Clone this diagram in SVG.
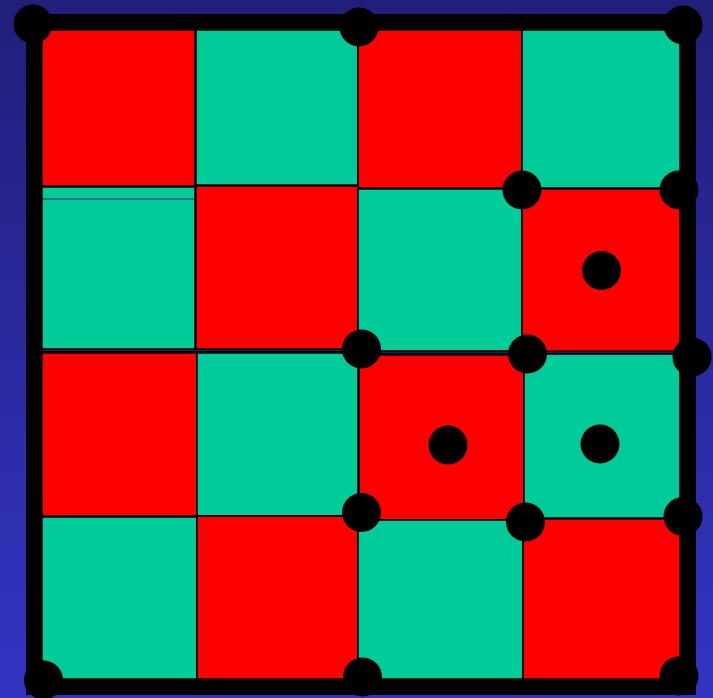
<svg xmlns="http://www.w3.org/2000/svg" width="713" height="698" viewBox="0 0 713 698">
<defs>
<linearGradient id="bg" x1="0" y1="0" x2="0" y2="1">
<stop offset="0" stop-color="#201f7a"/>
<stop offset="1" stop-color="#3434c4"/>
</linearGradient>
</defs>
<style>
.r{fill:#ff0000;stroke:#000;stroke-width:1.5}
.t{fill:#00cc99;stroke:#000;stroke-width:1.5}
.d{fill:#000}
</style>
<rect width="713" height="698" fill="url(#bg)"/>
<g id="cells">
<rect class="r" x="42" y="30" width="153" height="156"/>
<rect class="t" x="196" y="30" width="162" height="155"/>
<rect class="r" x="358" y="30" width="164" height="158"/>
<rect class="t" x="522" y="30" width="158" height="158"/>
<rect class="t" x="42" y="187" width="153" height="162"/>
<line x1="42" y1="199" x2="195" y2="199" stroke="#1a1a6e" stroke-width="1"/>
<rect class="r" x="196" y="186" width="162" height="163"/>
<rect class="t" x="358" y="189" width="164" height="162"/>
<rect class="r" x="522" y="189" width="158" height="163"/>
<rect class="r" x="42" y="353" width="155" height="163"/>
<rect class="t" x="197" y="353" width="161" height="163"/>
<rect class="r" x="359" y="355" width="165" height="165"/>
<rect class="t" x="524" y="354" width="156" height="164"/>
<rect class="t" x="42" y="517" width="155" height="162"/>
<rect class="r" x="197" y="516" width="161" height="163"/>
<rect class="t" x="358" y="520" width="165" height="159"/>
<rect class="r" x="523" y="519" width="157" height="160"/>
<polyline points="42,350.5 360,350.5 380,352.5 680,352.5" fill="none" stroke="#000" stroke-width="4"/>
<polyline points="42,350.5 360,350.5 380,352.5 680,352.5" fill="none" stroke="#1a1a6e" stroke-width="1"/>
</g>
<g id="frame">
<rect x="34" y="22" width="654" height="665" fill="none" stroke="#000" stroke-width="16"/>
</g>
<g id="dots">
<circle class="d" cx="33" cy="24" r="19.5"/>
<circle class="d" cx="359" cy="27" r="19.5"/>
<circle class="d" cx="683" cy="25" r="19.5"/>
<circle class="d" cx="522" cy="190" r="19.5"/>
<circle class="d" cx="679" cy="190" r="19.5"/>
<circle class="d" cx="601.5" cy="270.5" r="19.5"/>
<circle class="d" cx="361.5" cy="349" r="19.5"/>
<circle class="d" cx="527.5" cy="354" r="19.5"/>
<circle class="d" cx="692" cy="357" r="19.5"/>
<circle class="d" cx="448" cy="445" r="19.5"/>
<circle class="d" cx="600" cy="444" r="19.5"/>
<circle class="d" cx="361.5" cy="512.5" r="19.5"/>
<circle class="d" cx="525.5" cy="522" r="19.5"/>
<circle class="d" cx="683" cy="516.5" r="19.5"/>
<circle class="d" cx="43.5" cy="680" r="19.5"/>
<circle class="d" cx="362.5" cy="677" r="19.5"/>
<circle class="d" cx="679" cy="676" r="19.5"/>
</g>
</svg>
